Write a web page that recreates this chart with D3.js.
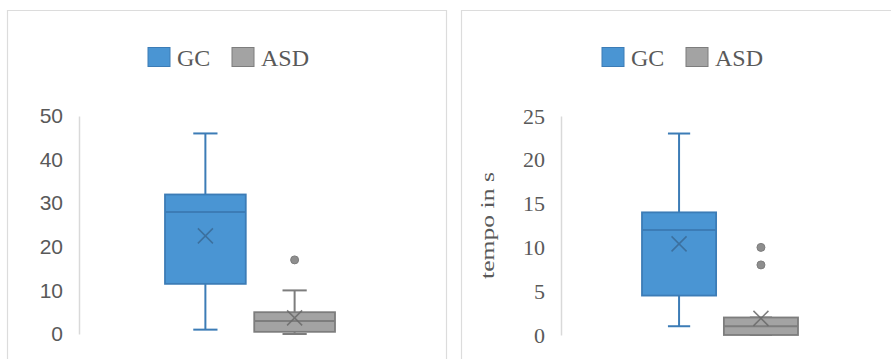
<!DOCTYPE html>
<html>
<head>
<meta charset="utf-8">
<script src="https://cdn.jsdelivr.net/npm/d3@7"></script>
<style>
  body { margin: 0; background: #fff; }
  svg { display: block; }
</style>
</head>
<body>
<div id="chart"></div>
<script>
// Series names and colours
var groups = ["GC", "ASD"];
var fills = ["#4a95d3", "#a3a3a3"];
var strokes = ["#3c7cb6", "#7d7d7d"];
var markColors = ["#3a6a96", "#6a6a6a"];

// Left chart (no axis title)
var leftTicks = [0, 10, 20, 30, 40, 50];
var leftMin = [1, 0];
var leftQ1 = [11.5, 0.5];
var leftMedian = [28, 3];
var leftQ3 = [32, 5];
var leftMax = [46, 10];
var leftMean = [22.5, 3.7];
var leftOutliers = [[], [17]];

// Right chart (tempo in s)
var rightTicks = [0, 5, 10, 15, 20, 25];
var rightMin = [1, 0];
var rightQ1 = [4.5, 0];
var rightMedian = [12, 1];
var rightQ3 = [14, 2];
var rightMax = [23, 2];
var rightMean = [10.4, 1.9];
var rightOutliers = [[], [10, 8]];

var W = 891, H = 359;

var svg = d3.select("#chart").append("svg")
    .attr("width", W)
    .attr("height", H);

// panel frames (open at the bottom)
function frame(x0, x1) {
  svg.append("path")
    .attr("d", "M" + x0 + "," + H + "V10.5H" + x1 + (x1 < W ? "V" + H : ""))
    .attr("fill", "none")
    .attr("stroke", "#dcdcdc")
    .attr("stroke-width", 1.2);
}
frame(7.5, 446.5);
frame(461.5, 891);

function legend(x) {
  var g = svg.append("g").attr("transform", "translate(" + x + ",0)");
  var offs = [0, 84];
  groups.forEach(function(name, i) {
    g.append("rect")
      .attr("x", offs[i]).attr("y", 47.5)
      .attr("width", 22).attr("height", 19)
      .attr("fill", fills[i])
      .attr("stroke", strokes[i]);
    g.append("text")
      .attr("x", offs[i] + 29).attr("y", 66)
      .attr("font-family", "'Liberation Serif', serif")
      .attr("font-size", 24)
      .attr("fill", "#595959")
      .text(name);
  });
}

function drawPanel(opt) {
  var y = d3.scaleLinear().domain(opt.domain).range([opt.y0, opt.y1]);
  var x = d3.scaleBand().domain(groups).range(opt.xRange).paddingInner(0.095);

  var axis = svg.append("g")
    .attr("transform", "translate(" + opt.axisX + ",0)")
    .call(d3.axisLeft(y).tickValues(opt.ticks).tickSize(0).tickPadding(16));
  axis.select(".domain").attr("stroke", "#d9d9d9").attr("stroke-width", 1.5);
  axis.selectAll("text")
    .attr("font-family", opt.tickFont)
    .attr("font-size", opt.tickSize)
    .attr("fill", "#595959");

  var bw = x.bandwidth();
  var cap = bw * 0.3;

  groups.forEach(function(name, i) {
    var cx = x(name) + bw / 2;
    var g = svg.append("g");
    // whisker
    g.append("line")
      .attr("x1", cx).attr("x2", cx)
      .attr("y1", y(opt.max[i])).attr("y2", y(opt.min[i]))
      .attr("stroke", strokes[i]).attr("stroke-width", 2);
    [opt.max[i], opt.min[i]].forEach(function(v) {
      g.append("line")
        .attr("x1", cx - cap / 2).attr("x2", cx + cap / 2)
        .attr("y1", y(v)).attr("y2", y(v))
        .attr("stroke", strokes[i]).attr("stroke-width", 2);
    });
    // box
    g.append("rect")
      .attr("x", x(name)).attr("width", bw)
      .attr("y", y(opt.q3[i]))
      .attr("height", y(opt.q1[i]) - y(opt.q3[i]))
      .attr("fill", fills[i])
      .attr("stroke", strokes[i]).attr("stroke-width", 1.8);
    // median
    g.append("line")
      .attr("x1", x(name)).attr("x2", x(name) + bw)
      .attr("y1", y(opt.median[i])).attr("y2", y(opt.median[i]))
      .attr("stroke", strokes[i]).attr("stroke-width", 2);
    // mean marker
    var m = 7.5, my = y(opt.mean[i]);
    g.append("path")
      .attr("d", "M" + (cx - m) + "," + (my - m) + "L" + (cx + m) + "," + (my + m) +
                 "M" + (cx - m) + "," + (my + m) + "L" + (cx + m) + "," + (my - m))
      .attr("stroke", markColors[i]).attr("stroke-width", 1.5)
      .attr("opacity", 0.85);
    // outliers
    g.selectAll("circle").data(opt.outliers[i]).enter().append("circle")
      .attr("cx", cx).attr("cy", function(d) { return y(d); })
      .attr("r", 4)
      .attr("fill", "#8e8e8e")
      .attr("stroke", "#7d7d7d");
  });

  if (opt.title) {
    svg.append("text")
      .attr("transform", "translate(" + opt.titleX + "," + ((opt.y0 + opt.y1) / 2) + ") rotate(-90)")
      .attr("text-anchor", "middle")
      .attr("font-family", "'Liberation Serif', serif")
      .attr("font-size", 18)
      .attr("textLength", 107)
      .attr("lengthAdjust", "spacingAndGlyphs")
      .attr("fill", "#595959")
      .text(opt.title);
  }
}

legend(148);
legend(602);

drawPanel({
  domain: [0, 50], y0: 334, y1: 116, axisX: 79, ticks: leftTicks,
  xRange: [165, 335],
  tickFont: "'Liberation Sans', sans-serif", tickSize: 21,
  min: leftMin, q1: leftQ1, median: leftMedian, q3: leftQ3, max: leftMax,
  mean: leftMean, outliers: leftOutliers
});

drawPanel({
  domain: [0, 25], y0: 335, y1: 116, axisX: 561, ticks: rightTicks,
  xRange: [642, 798],
  tickFont: "'Liberation Serif', serif", tickSize: 22,
  min: rightMin, q1: rightQ1, median: rightMedian, q3: rightQ3, max: rightMax,
  mean: rightMean, outliers: rightOutliers,
  title: "tempo in s", titleX: 494
});
</script>
</body>
</html>
